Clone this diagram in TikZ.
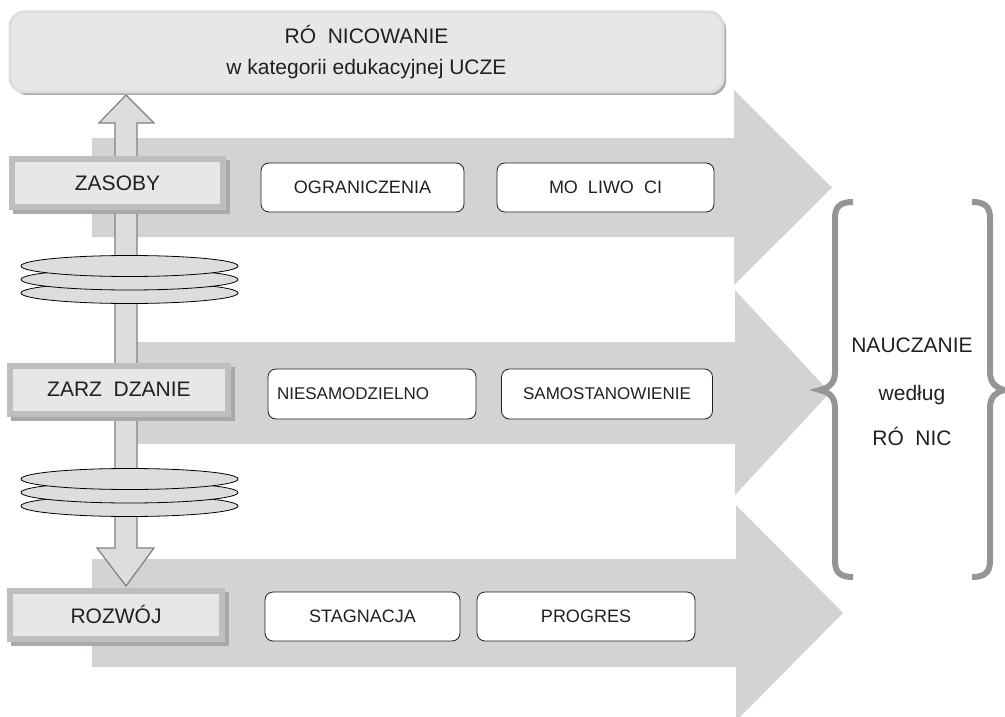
\documentclass[tikz,border=0pt]{standalone}
\usepackage{fontspec}
\setmainfont{Liberation Sans}
\definecolor{pfeilgrau}{HTML}{D1D3D4}
\definecolor{hellgrau}{HTML}{E6E7E8}
\definecolor{randgrau}{HTML}{BCBEC0}
\definecolor{schattengrau}{HTML}{A7A9AC}
\definecolor{schaftgrau}{HTML}{DCDDDF}
\definecolor{klammergrau}{HTML}{939598}
\definecolor{schrift}{HTML}{231F20}
\tikzset{
  kat/.style={draw=randgrau,line width=6pt,fill=hellgrau,inner sep=0pt,minimum height=48pt,
    text=schrift,font=\fontsize{21}{25}\selectfont,
    preaction={draw=schattengrau,fill=schattengrau,line width=6pt,transform canvas={shift={(4pt,-4pt)}}}},
  cecha/.style={draw=schrift,line width=.8pt,fill=white,rounded corners=8pt,inner sep=0pt,
    minimum height=49pt,text=schrift,font=\fontsize{18}{22}\selectfont},
  dysk/.style={draw=black,fill=schaftgrau,line width=.8pt},
  klamra/.style={draw=klammergrau,line width=6pt},
  napis/.style={text=schrift,font=\fontsize{21}{25}\selectfont,anchor=base}
}
\begin{document}
\begin{tikzpicture}[x=1pt,y=-1pt]
	\useasboundingbox (0,0) rectangle (1005,717);
	\clip (0,0) rectangle (1005,717);
	% grosse Pfeile
	\fill[pfeilgrau] (92,138) -- (734,138) -- (734,90) -- (832,187.5) -- (734,285) -- (734,237) -- (92,237) -- cycle;
	\fill[pfeilgrau] (137,342) -- (735,342) -- (735,290) -- (830,392.5) -- (735,495) -- (735,444) -- (137,444) -- cycle;
	\fill[pfeilgrau] (92,559) -- (736,559) -- (736,505) -- (843,613) -- (736,721) -- (736,667) -- (92,667) -- cycle;
	% Doppelpfeil
	\draw[fill=schaftgrau,draw=gray,line width=1.2pt] (126,95) -- (154,123) -- (137,123) -- (137,548) -- (154,548) -- (126,586)
		-- (97,548) -- (115,548) -- (115,123) -- (99,123) -- cycle;
	\foreach \y in {293,279.5,266,506,492.5,479}
		\draw[dysk] (129.5,\y) ellipse [x radius=108.5,y radius=10.5];
	% Kategorien
	\node[kat,minimum width=211pt] (zasoby) at (117.5,183) {ZASOBY};
	\node[kat,minimum width=218pt] (zarzadzanie) at (119,389.5) {ZARZ~~DZANIE};
	\node[kat,minimum width=212pt] (rozwoj) at (116,614.5) {ROZWÓJ};
	\node[cecha,minimum width=203pt] (ograniczenia) at (362.5,187.5) {OGRANICZENIA};
	\node[cecha,minimum width=217pt] (mozliwosci) at (605.5,187.5) {MO~~LIWO~~CI};
	\node[cecha,text width=190pt,inner xsep=9pt,align=left,minimum height=50pt,font=\fontsize{17}{21}\selectfont] (niesamodzielnosc) at (372,394) {NIESAMODZIELNO};
	\node[cecha,minimum width=211pt,minimum height=50pt,font=\fontsize{17}{21}\selectfont] (samostanowienie) at (607,394) {SAMOSTANOWIENIE};
	\node[cecha,minimum width=195pt] (stagnacja) at (362.5,616.5) {STAGNACJA};
	\node[cecha,minimum width=218pt] (progres) at (586,616.5) {PROGRES};
	% Kopf
	\node[fill=hellgrau,draw=schaftgrau,line width=3pt,rounded corners=14pt,minimum width=713pt,minimum height=80pt,
		inner sep=0pt,align=center,text=schrift,font=\fontsize{21}{31}\selectfont,
		preaction={fill=schattengrau,transform canvas={shift={(3pt,-3pt)}}}] (kopf) at (366.5,52)
		{RÓ~~NICOWANIE\\w kategorii edukacyjnej UCZE};
	% Klammern
	\draw[klamra] (853,202) .. controls (841,202) and (835,206) .. (835,218) -- (835,372) .. controls (835,384) and (828,388) .. (820,390)
		.. controls (828,392) and (835,396) .. (835,408) -- (835,561) .. controls (835,573) and (841,577) .. (853,577);
	\draw[klamra] (972,202) .. controls (984,202) and (990,206) .. (990,218) -- (990,372) .. controls (990,384) and (997,388) .. (1004,390)
		.. controls (997,392) and (990,396) .. (990,408) -- (990,561) .. controls (990,573) and (984,577) .. (972,577);
	\node[napis] (nauczanie) at (912,352) {NAUCZANIE};
	\node[napis] (wedlug) at (912,400) {według};
	\node[napis] (roznic) at (912,445) {RÓ~~NIC};
\end{tikzpicture}
\end{document}
